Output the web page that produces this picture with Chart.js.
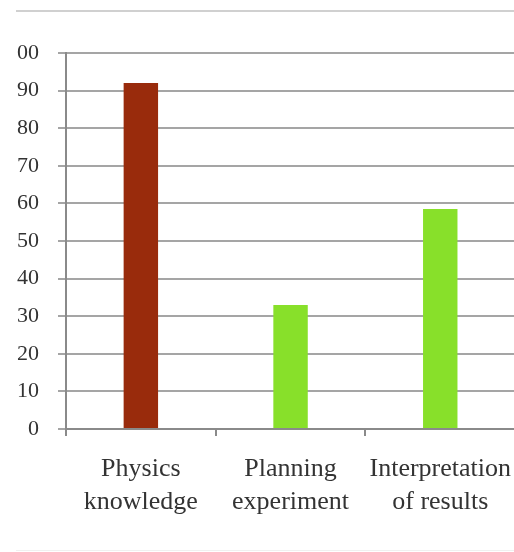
<!DOCTYPE html>
<html>
<head>
<meta charset="utf-8">
<script src="https://cdn.jsdelivr.net/npm/chart.js@4/dist/chart.umd.min.js"></script>
<style>
  html, body { margin: 0; padding: 0; background: #fff; }
  body { width: 514px; height: 552px; position: relative; overflow: hidden; }
  #frame {
    position: absolute; left: 16px; top: 10px; width: 498px; height: 538px;
    border-top: 2px solid #d0d0d0; border-bottom: 1px solid #f0f0f0;
    overflow: hidden;
  }
  #wrap { position: absolute; left: -10px; top: 0; width: 524px; height: 528px; }
</style>
</head>
<body>
<div id="frame">
  <div id="wrap"><canvas id="barCanvas" width="524" height="528"></canvas></div>
</div>
<script>
const categories = [["Physics", "knowledge"], ["Planning", "experiment"], ["Interpretation", "of results"]];
const scores = [92, 33, 58.5];
const barColors = ["#992b0c", "#88e02a", "#88e02a"];
const yTicks = [0, 10, 20, 30, 40, 50, 60, 70, 80, 90, 100];

const barCanvas = document.getElementById("barCanvas");

const barChart = new Chart(barCanvas, {
    type: "bar",
    data: {
        labels: categories,
        datasets: [{
            data: scores,
            backgroundColor: barColors,
            barPercentage: 0.23,
            categoryPercentage: 1
        }]
    },
    options: {
        responsive: false,
        animation: false,
        layout: { padding: { top: 41, right: 12, bottom: 4, left: 0 } },
        plugins: { legend: { display: false }, tooltip: { enabled: false } },
        scales: {
            x: {
                grid: { drawOnChartArea: false, offset: true, tickLength: 7, color: "#8a8a8a", lineWidth: 2 },
                border: { display: true, color: "#8a8a8a", width: 2 },
                ticks: {
                    color: "#333",
                    padding: 17,
                    maxRotation: 0,
                    autoSkip: false,
                    font: { family: "'Liberation Serif'", size: 26, lineHeight: 1.27 }
                }
            },
            y: {
                min: 0,
                max: 100,
                afterFit: (scale) => { scale.width = 60; },
                afterBuildTicks: (scale) => { scale.ticks = yTicks.map(v => ({ value: v })); },
                grid: { color: "#a5a5a5", lineWidth: 2, tickLength: 8 },
                border: { display: true, color: "#8a8a8a", width: 2 },
                ticks: {
                    color: "#333",
                    padding: 19,
                    font: { family: "'Liberation Serif'", size: 22 }
                }
            }
        }
    }
});
</script>
</body>
</html>
